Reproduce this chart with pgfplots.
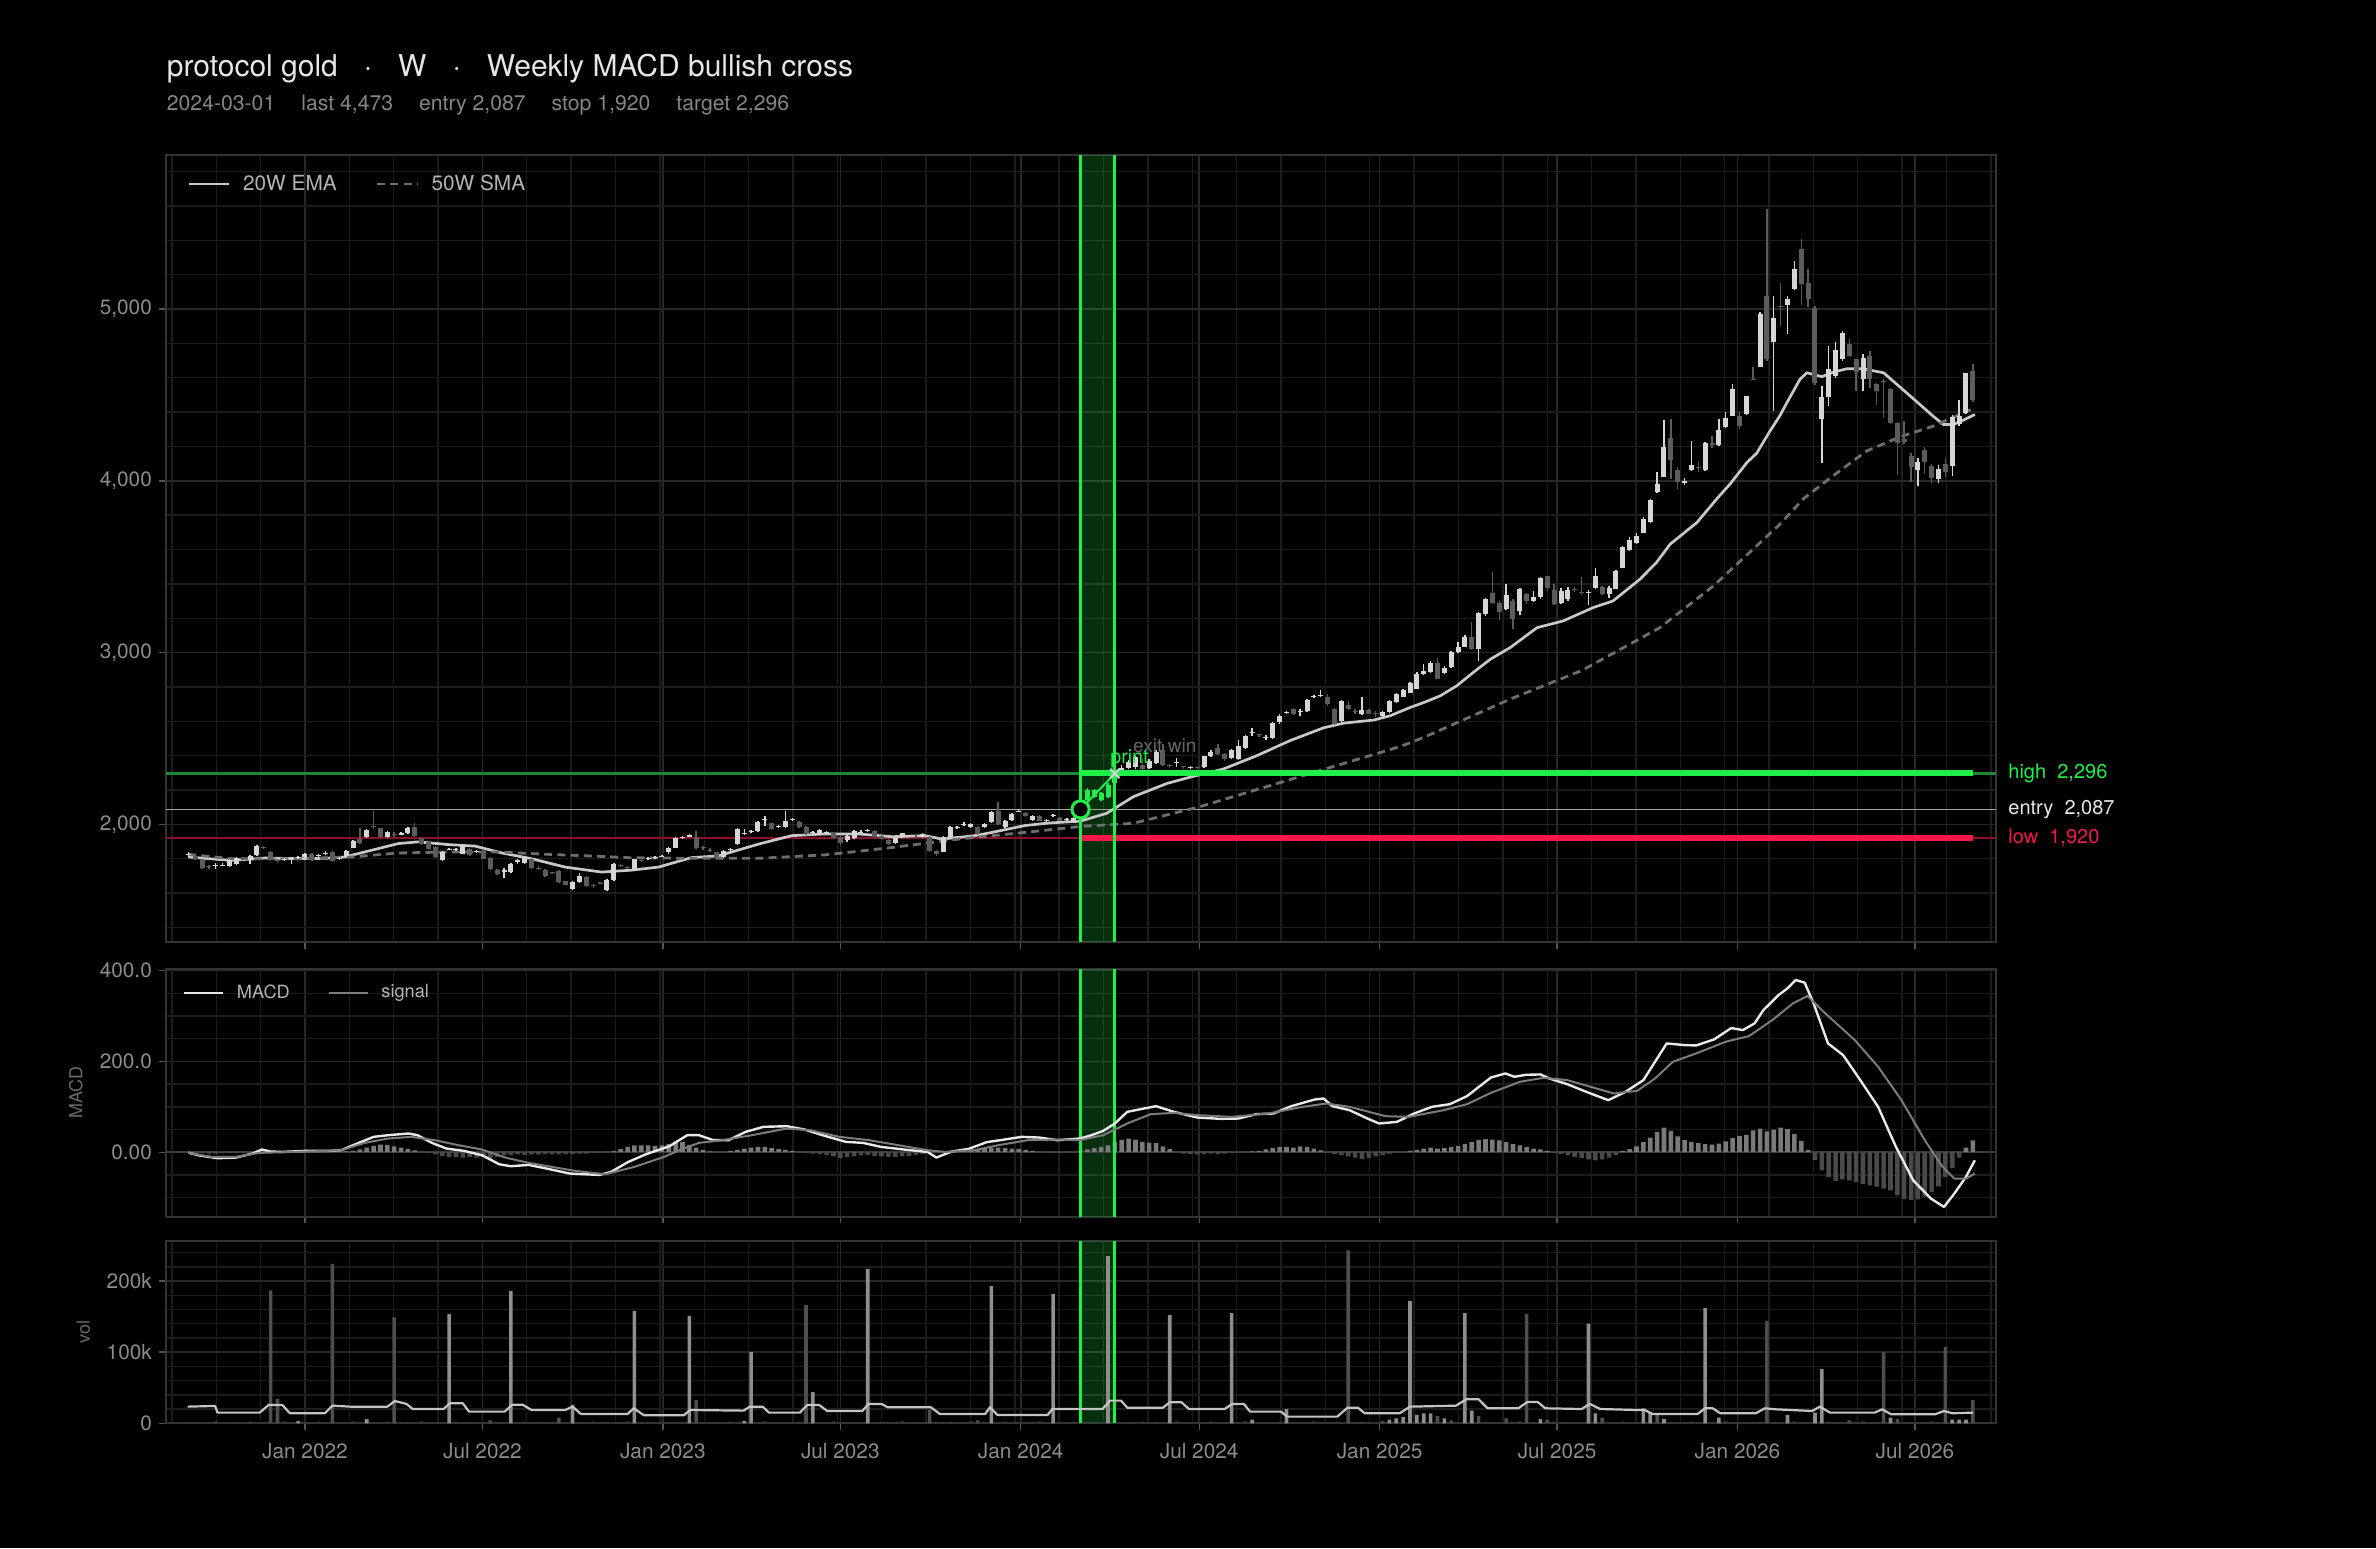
\documentclass[border=0pt]{standalone}
\usepackage{fontspec}
\setmainfont{TeX Gyre Heros}
\usepackage{pgfplots}
\usepackage{pgfplotstable}
\pgfplotsset{compat=1.18}

\definecolor{cFrame}{HTML}{333333}
\definecolor{cGridMaj}{HTML}{282828}
\definecolor{cGridMin}{HTML}{1C1C1C}
\definecolor{cTick}{HTML}{555555}
\definecolor{cTickLab}{HTML}{8C8C8C}
\definecolor{cTitle}{HTML}{E6E6E6}
\definecolor{cSub}{HTML}{858585}
\definecolor{cUp}{HTML}{D6D6D6}
\definecolor{cDown}{HTML}{5C5C5C}
\definecolor{cGreen}{HTML}{22EE4A}
\definecolor{cGreenDim}{HTML}{1C8A34}
\definecolor{cRed}{HTML}{F2184A}
\definecolor{cRedDim}{HTML}{8A1028}
\definecolor{cEntry}{HTML}{A5A5A5}
\definecolor{cEMA}{HTML}{C8C8C8}
\definecolor{cSMA}{HTML}{6E6E6E}
\definecolor{cMACD}{HTML}{E8E8E8}
\definecolor{cSignal}{HTML}{7C7C7C}
\definecolor{cHistPos}{HTML}{7A7A7A}
\definecolor{cHistNeg}{HTML}{4A4A4A}
\definecolor{cVolUp}{HTML}{8E8E8E}
\definecolor{cVolDown}{HTML}{4E4E4E}
\definecolor{cVolBase}{HTML}{3A3A3A}
\definecolor{cVolMA}{HTML}{C4C4C4}
\definecolor{cLeg}{HTML}{B4B4B4}
\definecolor{cZero}{HTML}{3C3C3C}
\definecolor{cYlab}{HTML}{6A6A6A}
\definecolor{cExit}{HTML}{666666}

\pgfplotstableread{
w o c h l v d m
0 1820 1830 1840 1812 1.2 0 0
1 1815 1800 1822 1795 2.0 0 -1
2 1794 1747 1798 1740 0.9 0 -2
3 1755 1752 1765 1740 1.6 0 -3
4 1755 1762 1772 1740 2.6 0 -3
5 1760 1766 1775 1755 1.1 0 -2
6 1760 1795 1800 1752 1.8 0 -2
7 1767 1804 1810 1762 1.4 0 -2
8 1800 1798 1808 1790 0.8 0 -1
9 1790 1814 1820 1767 2.2 0 -1
10 1820 1873 1878 1815 1.2 0 1
11 1868 1862 1872 1858 2.0 0 1
12 1840 1790 1845 1785 187 2 1
13 1792 1788 1800 1775 34 2 1
14 1792 1796 1805 1785 2.6 0 1
15 1800 1804 1810 1767 1.1 0 1
16 1805 1810 1815 1800 3 1 1
17 1810 1829 1835 1805 1.4 0 1
18 1829 1790 1832 1785 0.8 0 1
19 1815 1822 1830 1810 2.2 0 1
20 1825 1832 1845 1820 1.2 0 1
21 1840 1786 1848 1780 224 2 1
22 1798 1802 1808 1790 0.9 0 1
23 1814 1843 1848 1808 1.6 0 2
24 1865 1902 1908 1860 2.6 0 3
25 1912 1892 1976 1888 1.1 0 6
26 1927 1967 1972 1920 6 1 10
27 1990 1984 2078 1975 1.4 0 14
28 1976 1927 1980 1920 0.8 0 17
29 1927 1957 1962 1922 2.2 0 16
30 1945 1935 1955 1925 149 2 13
31 1940 1950 1955 1935 2.0 0 10
32 1947 1976 1982 1942 0.9 0 7
33 1986 1931 2006 1926 1.6 0 4
34 1918 1888 1925 1880 2.6 0 1
35 1898 1859 1905 1850 1.1 0 -2
36 1869 1810 1873 1805 1.8 0 -5
37 1790 1840 1845 1785 1.4 0 -8
38 1852 1856 1862 1848 154 1 -10
39 1850 1854 1860 1845 2.2 0 -11
40 1830 1873 1878 1825 1.2 0 -12
41 1859 1820 1864 1815 2.0 0 -11
42 1838 1842 1848 1832 0.9 0 -12
43 1843 1800 1848 1796 1.6 0 -11
44 1804 1741 1808 1735 4 2 -14
45 1735 1708 1740 1703 1.1 0 -10
46 1725 1732 1745 1690 1.8 0 -7
47 1722 1767 1772 1718 186 1 -6
48 1780 1790 1800 1770 0.8 0 -5
49 1775 1810 1815 1770 2.2 0 -6
50 1800 1747 1805 1742 1.2 0 -5
51 1745 1740 1755 1735 2.0 0 -5
52 1735 1700 1740 1695 0.9 0 -4
53 1722 1718 1725 1712 1.6 0 -5
54 1731 1663 1735 1658 8 2 -5
55 1669 1649 1672 1645 1.1 0 -4
56 1623 1663 1668 1618 26 1 -4
57 1663 1702 1718 1658 1.4 0 -3
58 1696 1643 1700 1638 0.8 0 -3
59 1645 1642 1650 1630 2.2 0 -2
60 1660 1655 1664 1650 1.2 0 -1
61 1618 1673 1680 1610 2.0 0 1
62 1676 1767 1772 1670 0.9 0 3
63 1762 1758 1768 1752 1.6 0 7
64 1752 1748 1760 1740 2.6 0 12
65 1737 1796 1800 1730 158 1 15
66 1792 1788 1800 1780 1.8 0 15
67 1800 1802 1808 1795 1.4 0 15
68 1806 1810 1815 1800 0.8 0 14
69 1812 1816 1822 1808 2.2 0 15
70 1836 1865 1870 1830 1.2 0 18
71 1865 1920 1925 1860 2.0 0 24
72 1922 1924 1932 1915 0.9 0 22
73 1930 1934 1945 1925 151 1 16
74 1928 1865 1960 1858 33 2 10
75 1866 1865 1872 1850 1.1 0 5
76 1848 1845 1860 1838 1.8 0 2
77 1836 1810 1840 1805 1.4 0 0
78 1810 1845 1850 1805 0.8 0 1
79 1850 1855 1865 1835 2.2 0 3
80 1885 1973 1978 1880 1.2 0 5
81 1948 1950 1975 1940 3 1 8
82 1955 1960 1965 1950 100 1 10
83 1960 2012 2018 1955 1.6 0 12
84 2028 2030 2050 1990 2.6 0 11
85 2006 1973 2010 1968 1.1 0 9
86 1985 1990 1995 1978 1.8 0 7
87 1983 2018 2075 1978 1.4 0 5
88 2025 2026 2035 2020 0.8 0 3
89 2016 1983 2020 1978 2.2 0 1
90 1983 1947 1988 1940 166 2 -2
91 1952 1953 1962 1945 44 1 -3
92 1944 1965 1970 1940 0.9 0 -4
93 1952 1953 1960 1945 1.6 0 -6
94 1953 1920 1958 1915 2.6 0 -9
95 1924 1894 1930 1880 1.1 0 -13
96 1908 1934 1940 1900 1.8 0 -11
97 1920 1960 1965 1915 1.4 0 -9
98 1952 1955 1965 1948 0.8 0 -7
99 1962 1963 1970 1955 217 1 -6
100 1963 1928 1968 1922 1.2 0 -8
101 1934 1914 1940 1908 2.0 0 -9
102 1908 1888 1912 1882 0.9 0 -10
103 1894 1920 1925 1888 1.6 0 -10
104 1924 1947 1952 1918 2.6 0 -9
105 1932 1934 1940 1928 1.1 0 -8
106 1925 1924 1935 1918 1.8 0 -6
107 1924 1944 1950 1920 1.4 0 -4
108 1924 1845 1930 1840 19 2 -2
109 1845 1830 1848 1815 2.2 0 0
110 1841 1924 1930 1836 1.2 0 2
111 1924 1983 1988 1920 2.0 0 3
112 1980 1983 1990 1975 0.9 0 4
113 2000 2002 2015 1990 1.6 0 5
114 1983 2002 2008 1978 2.6 0 6
115 1983 1944 1988 1940 4 2 7
116 1983 2002 2008 1978 1.8 0 8
117 2012 2071 2076 2008 193 1 9
118 2077 2002 2130 1998 0.8 0 10
119 1983 2022 2028 1978 2.2 0 9
120 2026 2061 2066 2020 1.2 0 8
121 2075 2077 2090 2070 2.0 0 7
122 2065 2046 2070 2040 0.9 0 5
123 2026 2046 2052 2020 1.6 0 3
124 2051 2022 2056 2018 2.6 0 1
125 2024 2026 2032 2015 1.1 0 -1
126 2050 2051 2058 2045 182 1 -2
127 2038 2022 2042 2018 1.4 0 -2
128 2024 2028 2035 2018 0.8 0 -1
129 2022 2038 2045 2015 2.2 0 0
130 2038 2087 2095 2030 1.2 0 4
131 2142 2200 2210 2135 2.0 0 6
132 2161 2200 2205 2155 0.9 0 9
133 2141 2180 2188 2135 1.6 0 12
134 2161 2230 2238 2155 235 1 15
135 2240 2288 2300 2235 1.1 0 22
136 2296 2330 2345 2290 1.8 0 27
137 2330 2360 2375 2320 1.4 0 30
138 2332 2390 2400 2325 0.8 0 28
139 2345 2322 2380 2318 2.2 0 23
140 2326 2370 2378 2320 1.2 0 21
141 2357 2423 2430 2350 2.0 0 20
142 2435 2345 2470 2340 0.9 0 13
143 2345 2341 2350 2330 152 1 7
144 2355 2360 2385 2335 2.6 0 -1
145 2336 2332 2340 2320 1.1 0 -3
146 2330 2334 2342 2325 1.8 0 -4
147 2334 2330 2340 2322 1.4 0 -5
148 2332 2396 2400 2328 0.8 0 -4
149 2396 2423 2430 2390 2.2 0 -3
150 2442 2409 2470 2405 1.2 0 -4
151 2409 2380 2415 2370 2.0 0 -3
152 2384 2435 2440 2378 155 1 -2
153 2380 2454 2490 2375 1.6 0 -1
154 2442 2512 2518 2438 2.6 0 1
155 2530 2535 2560 2515 5 1 2
156 2524 2520 2528 2510 1.8 0 3
157 2505 2508 2520 2490 1.4 0 6
158 2500 2590 2596 2495 0.8 0 9
159 2593 2628 2645 2585 2.2 0 11
160 2646 2651 2658 2640 20 1 12
161 2670 2642 2675 2636 2.0 0 10
162 2656 2660 2670 2630 0.9 0 13
163 2660 2723 2730 2655 1.6 0 12
164 2740 2744 2752 2735 2.6 0 8
165 2746 2750 2780 2740 1.1 0 4
166 2742 2700 2760 2690 1.8 0 -2
167 2674 2583 2680 2578 1.4 0 -4
168 2603 2716 2722 2598 0.8 0 -6
169 2694 2670 2720 2665 243 2 -9
170 2658 2654 2672 2645 1.2 0 -12
171 2642 2667 2740 2638 2.0 0 -15
172 2667 2645 2672 2640 0.9 0 -13
173 2646 2642 2660 2625 1.6 0 -9
174 2632 2655 2662 2625 3 2 -6
175 2655 2720 2726 2650 5 1 -3
176 2713 2758 2764 2708 7 1 -1
177 2744 2783 2790 2740 9 1 0
178 2767 2820 2826 2762 172 1 3
179 2790 2878 2885 2785 12 1 5
180 2874 2890 2935 2870 14 1 8
181 2888 2942 2948 2882 14 1 10
182 2938 2849 2970 2844 10 2 8
183 2880 2913 2920 2875 7 1 9
184 2917 3004 3010 2910 4 2 11
185 3004 3035 3060 3000 1.1 0 14
186 3035 3093 3100 3030 155 1 18
187 3093 3019 3180 3015 18 1 22
188 3023 3228 3234 2950 10 2 27
189 3222 3313 3320 3215 2.2 0 29
190 3344 3290 3470 3285 1.2 0 28
191 3286 3236 3300 3190 2.0 0 26
192 3251 3338 3400 3245 7 2 22
193 3300 3194 3310 3140 1.6 0 18
194 3243 3369 3375 3220 2.6 0 15
195 3340 3300 3345 3280 154 2 11
196 3300 3326 3360 3295 1.8 0 8
197 3326 3437 3440 3310 6 1 6
198 3443 3378 3448 3360 5 2 3
199 3365 3281 3400 3275 2.2 0 -2
200 3287 3359 3375 3280 1.2 0 -4
201 3310 3365 3380 3300 2.0 0 -7
202 3369 3363 3380 3355 0.9 0 -10
203 3355 3345 3440 3338 1.6 0 -13
204 3346 3352 3365 3275 140 1 -16
205 3378 3443 3490 3370 14 1 -18
206 3384 3340 3390 3335 8 2 -16
207 3340 3378 3385 3320 1.4 0 -12
208 3372 3475 3480 3368 0.8 0 -6
209 3495 3617 3622 3490 2.2 0 3
210 3598 3656 3670 3594 1.2 0 7
211 3640 3676 3695 3635 2.0 0 13
212 3699 3776 3790 3694 21 1 22
213 3761 3889 3895 3756 16 1 32
214 3936 3980 4050 3930 12 2 45
215 4025 4194 4355 4020 6 1 54
216 4247 4122 4360 4010 1.8 0 47
217 4064 3994 4078 3955 1.4 0 35
218 3986 4000 4018 3975 0.8 0 27
219 4064 4091 4230 4056 2.2 0 23
220 4081 4075 4110 4050 1.2 0 20
221 4064 4219 4225 4060 162 1 18
222 4222 4210 4260 4190 0.9 0 17
223 4208 4297 4360 4200 8 1 19
224 4316 4363 4400 4305 2.6 0 24
225 4379 4534 4565 4375 1.1 0 31
226 4379 4320 4400 4300 1.8 0 36
227 4388 4491 4496 4383 1.4 0 38
228 4594 4588 4660 4585 0.8 0 48
229 4664 4973 4980 4660 2.2 0 52
230 5076 4707 5584 4700 144 2 46
231 4808 4949 5076 4406 2.0 0 50
232 5020 5014 5150 4900 0.9 0 54
233 5021 5056 5076 4855 12 1 51
234 5118 5231 5281 5110 2.6 0 40
235 5348 5144 5406 5021 1.1 0 25
236 5153 5056 5231 5013 1.8 0 5
237 5008 4567 5016 4555 15 1 -17
238 4357 4489 4551 4105 76 1 -40
239 4489 4652 4785 4435 2.2 0 -55
240 4610 4761 4808 4600 1.2 0 -63
241 4711 4858 4873 4700 2.0 0 -60
242 4794 4726 4824 4720 4 2 -62
243 4707 4633 4710 4520 1.6 0 -66
244 4590 4716 4736 4520 2.6 0 -70
245 4726 4590 4755 4540 1.1 0 -73
246 4561 4522 4570 4440 1.8 0 -76
247 4584 4576 4590 4365 100 2 -80
248 4532 4338 4540 4330 8 1 -84
249 4338 4221 4345 4036 6 2 -95
250 4245 4228 4350 4215 1.2 0 -103
251 4143 4081 4160 3995 2.0 0 -105
252 4062 4109 4130 3970 0.9 0 -104
253 4178 4109 4195 4040 1.6 0 -98
254 4085 4017 4100 3985 2.6 0 -88
255 4012 4070 4090 3990 1.1 0 -75
256 4095 4050 4135 4020 107 2 -55
257 4085 4373 4385 4030 5 1 -35
258 4328 4377 4470 4320 5 1 -12
259 4396 4625 4630 4390 5 1 10
260 4639 4473 4680 4460 33 2 26
}\candles

\pgfplotsset{
  panel/.style={
    scale only axis, width=915.25pt, anchor=south west,
    xmin=-3.32, xmax=263.38,
    enlargelimits=false,
    clip mode=individual,
    axis background/.style={fill=black},
    axis line style={draw=cFrame, line width=1pt},
    grid=both,
    major grid style={draw=cGridMaj, line width=0.8pt},
    minor grid style={draw=cGridMin, line width=0.7pt},
    tick align=outside, tick pos=left,
    major tick length=3.3pt, minor tick length=0pt,
    tick style={draw=cTick, line width=0.7pt},
    xtick={17,42.857,69.143,95,121.286,147.286,173.571,199.429,225.714,251.571},
    minor xtick={-2.393,4.071,...,263},
    ticklabel style={font=\fontsize{10.4}{12}\selectfont, text=cTickLab},
  },
  wick/.style={forget plot, line width=0.7pt,
    quiver={u=0, v={\thisrow{h}-\thisrow{l}}}},
  body/.style={forget plot, line width=2.5pt,
    quiver={u=0, v={max(abs(\thisrow{c}-\thisrow{o}),6)}}},
}

\begin{document}
\begin{tikzpicture}
\fill[black] (0pt,0pt) rectangle (1188pt,774pt);
\useasboundingbox (0pt,0pt) rectangle (1188pt,774pt);

\node[anchor=base west, inner sep=0pt, text=cTitle, font=\fontsize{15}{18}\selectfont] at (83.25pt,735.7pt) {protocol gold\hspace{13pt}·\hspace{13pt}W\hspace{13pt}·\hspace{13pt}Weekly MACD bullish cross};
\node[anchor=base west, inner sep=0pt, text=cSub, font=\fontsize{10.6}{12}\selectfont] at (83.25pt,718.5pt) {2024-03-01\hspace{13pt}last 4,473\hspace{13pt}entry 2,087\hspace{13pt}stop 1,920\hspace{13pt}target 2,296};

% ---------------- price panel
\begin{axis}[panel, at={(82.75pt,302.75pt)}, height=393.75pt,
  ymin=1312, ymax=5897,
  ytick={2000,3000,4000,5000}, yticklabels={{2,000},{3,000},{4,000},{5,000}},
  minor ytick={1400,1600,...,5800},
  xticklabels={},
  legend style={at={(0,0.9632)}, anchor=west, xshift=10.75pt, draw=none, fill=none, inner sep=0pt,
    font=\fontsize{10.4}{12}\selectfont, text=cLeg, nodes={inner sep=0pt},
    /tikz/every odd column/.append style={column sep=6.5pt},
    /tikz/every even column/.append style={column sep=19.5pt}},
  legend columns=2,
  legend image code/.code={\draw[#1] (0pt,0pt) -- (20pt,0pt);},
]
\addplot[forget plot, draw=none, fill=cGreen, fill opacity=0.2] coordinates {(130,1312) (130,5897) (135,5897) (135,1312)} -- cycle;
\addplot[forget plot, cEntry, line width=0.85pt] coordinates {(-3.32,2087) (263.38,2087)};
\addplot[forget plot, cGreenDim, line width=1.3pt] coordinates {(-3.32,2296) (263.38,2296)};
\addplot[forget plot, cRedDim, line width=1.3pt] coordinates {(-3.32,1920) (263.38,1920)};

\addplot[cEMA, line width=1.35pt, line join=round] coordinates {
(0,1810) (3,1800) (6.3,1790) (11.2,1804) (16,1800) (20,1802) (22.8,1810) (26.7,1849) (30.6,1888) (33.5,1898)
(37.9,1882) (41.8,1873) (45.7,1833) (50,1800) (54.9,1751) (60.2,1722) (64.5,1733) (68.5,1751) (73.3,1806) (77.2,1816)
(83.1,1885) (87.9,1934) (92.8,1944) (97.6,1944) (102.5,1928) (107.3,1934) (109.8,1914) (114.6,1934) (117.1,1953) (121.9,1993)
(125.5,2008) (129.9,2018) (133.8,2064) (137.7,2161) (142.6,2238) (145.9,2274) (150.8,2322) (155.7,2400) (160.5,2487) (165.4,2562)
(168.3,2589) (172.7,2607) (175.1,2632) (178,2680) (180,2709) (182.4,2748) (184.8,2806) (187.2,2884) (189.7,2961) (192.6,3029)
(196.5,3145) (200.3,3184) (204.7,3262) (207.6,3301) (211.5,3427) (213.9,3524) (215.9,3631) (219.8,3757) (222.7,3895) (224.6,3980)
(227.1,4107) (228.5,4160) (230.3,4280) (231.9,4380) (232.9,4454) (234.8,4590) (235.8,4629) (236.8,4619) (238,4606) (239.7,4633)
(241.6,4652) (244,4652) (247,4629) (248.4,4580) (250.9,4493) (254.2,4377) (255.7,4328) (257.2,4328) (258.6,4353) (260.3,4386)};
\addlegendentry{20W EMA}
\addplot[cSMA, line width=1.4pt, dash pattern=on 4pt off 2.6pt] coordinates {
(0,1825) (6.3,1800) (16,1800) (23.8,1810) (30.6,1833) (37.9,1839) (45.2,1839) (52.5,1825) (59.7,1814) (64,1806)
(73.3,1802) (83.1,1802) (92.8,1822) (102.5,1865) (112.2,1914) (121.9,1953) (129.9,1987) (137.7,2006) (147.4,2103) (157.1,2219)
(166.8,2336) (176.5,2452) (180,2506) (192.6,2729) (203,2895) (214.4,3145) (222.2,3388) (231.9,3747) (235.3,3895) (240,4040)
(244.5,4173) (249.4,4256) (254.2,4318) (260.3,4425)};
\addlegendentry{50W SMA}

% up candles
\addplot[wick, draw=cUp,
  restrict expr to domain={(1-(\thisrow{c}<\thisrow{o}))*((\thisrow{w}<129.5)+(\thisrow{w}>135.5))}{0.5:1.5}]
  table[x=w, y=l] {\candles};
\addplot[body, draw=cUp,
  restrict expr to domain={(1-(\thisrow{c}<\thisrow{o}))*((\thisrow{w}<129.5)+(\thisrow{w}>135.5))}{0.5:1.5}]
  table[x=w, y expr={min(\thisrow{o},\thisrow{c})-max(0,6-abs(\thisrow{c}-\thisrow{o}))/2}] {\candles};
% down candles
\addplot[wick, draw=cDown,
  restrict expr to domain={(\thisrow{c}<\thisrow{o})*((\thisrow{w}<129.5)+(\thisrow{w}>135.5))}{0.5:1.5}]
  table[x=w, y=l] {\candles};
\addplot[body, draw=cDown,
  restrict expr to domain={(\thisrow{c}<\thisrow{o})*((\thisrow{w}<129.5)+(\thisrow{w}>135.5))}{0.5:1.5}]
  table[x=w, y expr={min(\thisrow{o},\thisrow{c})-max(0,6-abs(\thisrow{c}-\thisrow{o}))/2}] {\candles};
% trade window candles
\addplot[wick, draw=cGreen,
  restrict expr to domain={(\thisrow{w}>129.5)*(\thisrow{w}<135.5)}{0.5:1.5}]
  table[x=w, y=l] {\candles};
\addplot[body, draw=cGreen,
  restrict expr to domain={(\thisrow{w}>129.5)*(\thisrow{w}<135.5)}{0.5:1.5}]
  table[x=w, y expr={min(\thisrow{o},\thisrow{c})-max(0,6-abs(\thisrow{c}-\thisrow{o}))/2}] {\candles};

\addplot[forget plot, cGreen, line width=3pt] coordinates {(130,2296) (260,2296)};
\addplot[forget plot, cRed, line width=3pt] coordinates {(130,1920) (260,1920)};
\addplot[forget plot, cGreen, line width=1.6pt] coordinates {(130,1312) (130,5897)};
\addplot[forget plot, cGreen, line width=1.6pt] coordinates {(135,1312) (135,5897)};
\addplot[forget plot, cGreen, line width=1pt] coordinates {(130,2087) (135,2296)};
\addplot[forget plot, only marks, mark=*, mark size=4.3pt, mark options={draw=cGreen, fill=black, line width=1.5pt}] coordinates {(130,2087)};
\addplot[forget plot, only marks, mark=x, mark size=3.3pt, mark options={draw=cUp, line width=1pt}] coordinates {(135,2296)};

\node[anchor=base west, inner sep=0pt, text=cExit, font=\fontsize{9.6}{11}\selectfont] at (axis cs:137.6,2417) {exit win};
\node[anchor=base west, inner sep=0pt, text=cGreen, font=\fontsize{9.8}{11}\selectfont] at (axis cs:134.3,2357) {print};

\node[anchor=west, inner sep=0pt, text=cGreen, font=\fontsize{10}{12}\selectfont, xshift=6pt] at (axis cs:263.38,2296) {high\ \ 2,296};
\node[anchor=west, inner sep=0pt, text=cTitle, font=\fontsize{10}{12}\selectfont, xshift=6pt] at (axis cs:263.38,2087) {entry\ \ 2,087};
\node[anchor=west, inner sep=0pt, text=cRed, font=\fontsize{10}{12}\selectfont, xshift=6pt] at (axis cs:263.38,1920) {low\ \ 1,920};
\end{axis}

% ---------------- MACD panel
\begin{axis}[panel, at={(82.75pt,165.65pt)}, height=123.85pt,
  ymin=-142, ymax=403.5,
  ytick={0,200,400}, yticklabels={0.00,200.0,400.0},
  minor ytick={-100,-50,50,100,150,250,300,350},
  xticklabels={},
  legend style={at={(0,0.9043)}, anchor=west, xshift=8.5pt, draw=none, fill=none, inner sep=0pt,
    font=\fontsize{9.1}{11}\selectfont, text=cLeg, nodes={inner sep=0pt},
    /tikz/every odd column/.append style={column sep=6.3pt},
    /tikz/every even column/.append style={column sep=19pt}},
  legend columns=2,
  legend image code/.code={\draw[#1] (0pt,0pt) -- (19.5pt,0pt);},
]
\addplot[forget plot, draw=none, fill=cGreen, fill opacity=0.2] coordinates {(130,-142) (130,403.5) (135,403.5) (135,-142)} -- cycle;
\addplot[forget plot, cZero, line width=0.8pt] coordinates {(-3.32,0) (263.38,0)};
\addplot[forget plot, ybar, bar width=2.3pt, fill=cHistPos, draw=none, restrict y to domain=0:1000] table[x=w, y=m] {\candles};
\addplot[forget plot, ybar, bar width=2.3pt, fill=cHistNeg, draw=none, restrict y to domain=-1000:0] table[x=w, y=m] {\candles};
\addplot[forget plot, cGreen, line width=1.6pt] coordinates {(130,-142) (130,403.5)};
\addplot[forget plot, cGreen, line width=1.6pt] coordinates {(135,-142) (135,403.5)};
\addplot[cMACD, line width=1.2pt, line join=round] coordinates {
(0,-1) (1.7,-7.4) (4.3,-13.2) (6.9,-11.8) (9.4,-2.9) (10.7,5.9) (12,1.5) (13.7,0.7) (17.1,2.9) (20.5,2.9)
(22.3,4.4) (24,15.4) (27,33.8) (29.1,37.5) (32.1,41.2) (33.4,37.5) (35.5,20.6) (37.6,8.1) (40.2,2.9) (42.8,-6.6)
(45.3,-26.5) (47,-30.9) (49.6,-27.9) (52.2,-36) (55.6,-47) (59.9,-50) (61.6,-43.4) (64.1,-21.3) (66.7,-4.4) (70.1,13.2)
(72.7,37.5) (74.4,37.5) (76.5,26.5) (78.7,26.5) (81.2,44.8) (83.8,55.9) (87.2,57.3) (89.8,50) (92.4,37.5) (95.8,22.8)
(98.3,20.6) (100.9,11.8) (104.3,5.9) (107.7,0.7) (109,-11.8) (111.2,1.5) (113.7,7.4) (116.3,22.1) (118.9,27.9) (121.4,33.8)
(124,32.3) (126.6,26.5) (129.9,30.1) (131.6,37.5) (133.3,47) (135,63.2) (136.8,88.9) (138.5,94.1) (141,101.4) (143.6,88.9)
(147,76.4) (150.4,73.5) (153,74.2) (155.6,83.8) (158.1,85.3) (160.7,101.4) (164.1,116.1) (165.4,118.3) (166.7,101.4) (169.2,92.6)
(171.8,74.2) (173.5,63.2) (176.1,66.9) (178.6,85.3) (181.2,100) (183.8,105.8) (186.3,123.5) (189.8,164.6) (191.9,173.5) (193.2,166.1)
(194.9,170.5) (197,171.3) (198.3,162.4) (200.9,149.9) (204.3,129.4) (206.9,114.7) (209.4,133) (212,158.8) (215.4,239.6) (218,235.9)
(219.7,235.2) (222.3,248.4) (224.8,273.4) (226.5,269) (228.2,283.7) (229.5,313.1) (231.7,346.2) (233,360.9) (234.2,379.3) (235.5,373.4)
(236.8,327.8) (238.9,239.6) (241.1,213.9) (243.6,158.8) (246.2,100) (248.8,11.8) (251.3,-61.7) (253.9,-102.2) (255.8,-120.5) (257.3,-91.1)
(259,-54.4) (260.3,-17.6)};
\addlegendentry{MACD}
\addplot[cSignal, line width=1pt, line join=round] coordinates {
(0,-1.5) (3.4,-10.3) (6.9,-10.3) (10.3,-1.5) (13.7,0) (18.8,2.2) (22.3,4.4) (25.7,20.6) (29.1,30.1) (32.5,33.8)
(35.9,26.5) (39.4,15.4) (42.8,5.9) (46.2,-11.8) (49.6,-23.5) (53,-32.3) (56.4,-41.2) (60.7,-48.5) (65,-32.3) (69.3,-10.3)
(71.8,5.9) (74.4,20.6) (77.8,26.5) (82.1,37.5) (87.2,52.2) (90.6,48.5) (94.9,33.8) (99.2,26.5) (103.5,15.4) (107.7,4.4)
(110.3,0.7) (114.6,4.4) (118,15.4) (122.3,26.5) (126.6,27.9) (129.9,26.5) (133.3,37.5) (136.8,63.2) (140.2,83.8) (143.6,86.7)
(147,81.6) (152.1,77.9) (157.3,85.3) (162.4,100) (165.8,107.3) (169.2,100) (174.4,79.4) (177.8,77.9) (182.9,92.6) (186.3,105.8)
(189.8,130.8) (194,155.1) (197.5,163.9) (200.9,158.8) (204.3,144.1) (207.7,129.4) (211.1,135.2) (213.7,162.4) (216.3,199.2) (219.7,217.6)
(224,243.3) (227.4,255.8) (230.8,291.1) (233.8,327.8) (235.9,344) (238.5,305.8) (242.8,247) (246.2,188.2) (249.6,114.7) (253,26.5)
(255.6,-32.3) (257.3,-58.1) (259,-58.1) (260.3,-47)};
\addlegendentry{signal}
\end{axis}

% ---------------- volume panel
\begin{axis}[panel, at={(82.75pt,62.35pt)}, height=91.3pt,
  ymin=0, ymax=256.7,
  ytick={0,100,200}, yticklabels={0,100k,200k},
  minor ytick={20,40,60,80,120,140,160,180,220,240},
  xticklabels={Jan 2022,Jul 2022,Jan 2023,Jul 2023,Jan 2024,Jul 2024,Jan 2025,Jul 2025,Jan 2026,Jul 2026},
  xticklabel style={yshift=-3pt},
]
\addplot[forget plot, draw=none, fill=cGreen, fill opacity=0.2] coordinates {(130,0) (130,256.7) (135,256.7) (135,0)} -- cycle;
\addplot[forget plot, ybar, bar width=1.8pt, fill=cVolBase, draw=none, restrict expr to domain={\thisrow{d}}{-0.5:0.5}] table[x=w, y=v] {\candles};
\addplot[forget plot, ybar, bar width=1.8pt, fill=cVolUp, draw=none, restrict expr to domain={\thisrow{d}}{0.5:1.5}] table[x=w, y=v] {\candles};
\addplot[forget plot, ybar, bar width=1.8pt, fill=cVolDown, draw=none, restrict expr to domain={\thisrow{d}}{1.5:2.5}] table[x=w, y=v] {\candles};
\addplot[forget plot, cGreen, line width=1.6pt] coordinates {(130,0) (130,256.7)};
\addplot[forget plot, cGreen, line width=1.6pt] coordinates {(135,0) (135,256.7)};
\addplot[forget plot, cVolMA, line width=1.1pt, line join=round] coordinates {
(-0.1,23.4) (3.9,24.4) (4.25,15) (10.4,15) (11.7,25.8) (13.7,25.8) (14.8,14.1) (19.9,14.1) (21,24.8) (23.6,23.4)
(29,23.4) (30.1,31.4) (31.8,27.2) (32.7,20.1) (37.2,20.1) (38.1,28.1) (40,28.1) (40.9,16.4) (46.1,16.4) (47.2,26.2)
(48.7,26.2) (50,18.7) (54.9,18.7) (56,23.4) (57.2,13.1) (64,13.1) (64.9,21.1) (66.4,11.2) (72.2,11.2) (73.1,18.7)
(80.9,17.8) (81.8,23.4) (83.7,23.4) (84.6,15) (89.1,15) (90.2,25.8) (91.9,25.8) (93.1,17.3) (98.2,17.3) (99.1,27.2)
(101,27.2) (101.9,22.5) (108.2,22.5) (109.5,13.1) (116.1,13.1) (116.8,22.5) (117.9,11.7) (125.2,11.7) (125.9,20.1) (133.2,20.1)
(134.3,31.9) (135.9,31.9) (136.8,22) (142,22) (143,29.5) (144.7,29.5) (145.8,20.1) (151,20.1) (152.1,27.2) (153.8,27.2)
(154.7,16.4) (159.2,16.4) (160.1,9.4) (167.4,9.4) (168.9,22) (170.4,22) (171.4,14.1) (176.5,14.1) (178,23.4) (184.7,24.8)
(186.2,33.7) (188,33.7) (189.3,21.1) (193.8,21.1) (195.1,30) (196.6,30) (197.7,21.1) (203,20.1) (204.2,27.2) (205.7,20.1)
(211.1,18.7) (212.2,18.7) (213.3,13.1) (219.9,13.1) (221,21.1) (222.1,21.1) (223.2,14.1) (228.4,14.1) (229.7,21.1) (231.2,19.7)
(236.6,17.3) (237.7,23.4) (239.2,15) (245.7,15) (246.8,19.7) (248.1,12.6) (254.5,12.6) (255.8,17.3) (257,14.1) (260,15)};
\end{axis}

\node[rotate=90, anchor=center, inner sep=0pt, text=cYlab, font=\fontsize{9}{11}\selectfont] at (37.9pt,227.6pt) {MACD};
\node[rotate=90, anchor=center, inner sep=0pt, text=cYlab, font=\fontsize{9}{11}\selectfont] at (41.7pt,108pt) {vol};
\end{tikzpicture}
\end{document}
